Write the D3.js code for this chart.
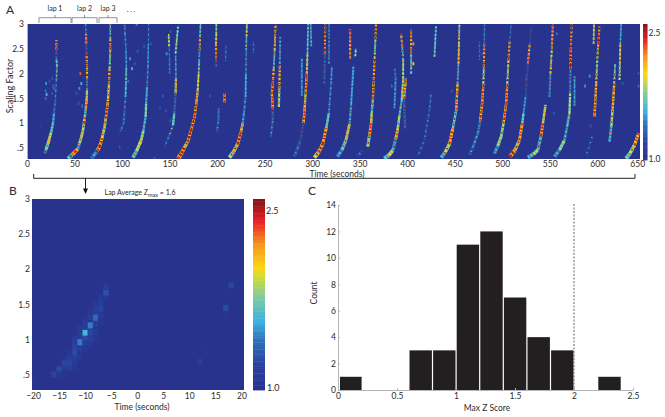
<!DOCTYPE html>
<html><head><meta charset="utf-8">
<script src="https://cdnjs.cloudflare.com/ajax/libs/d3/7.8.5/d3.min.js"></script>
<style>html,body{margin:0;padding:0;background:#fff}svg{display:block}text{font-family:Lato,"Open Sans",sans-serif;fill:#2b2b2b}</style>
</head><body><svg id="c" width="665" height="417"></svg>
<script>
// Panel A: streaks, each point [time s, scaling factor, z]
const streaksA = [
 [[18.8,.39,1.4],[20.5,.48,1.8],[22.4,.59,2.1],[24,.7,1.9],[25.9,.83,1.7],[27.7,1,1.6],[28.8,1.2,1.35],[30.2,1.47,1.3],[31.3,1.87,1.5],[32,2.14,1.8],[31.3,2.3,1.4],[31.3,2.48,2.5],[31.3,2.68,1.5]],
 [[43.7,.29,1.7],[48,.36,2.3],[51,.42,2.4],[54.3,.49,1.5],[56,.6,1.9],[58,.72,2.1],[59.7,.86,2.0],[60.6,1,2.5],[61.5,1.12,1.8],[62.5,1.27,2.3],[63.5,1.45,2.1],[64,1.67,1.5],[64,1.9,2.3],[64,2.14,2.5],[63.5,2.4,1.4],[63.2,2.6,2.4],[63,2.8,1.4],[62.5,3,1.4]],
 [[68.6,.29,1.4],[72,.37,1.5],[75,.45,2.4],[77.4,.53,2.5],[80,.7,2.0],[82.8,.93,2.2],[84,1.1,2.5],[85.6,1.33,2.4],[86.5,1.5,2.0],[87.4,1.8,2.5],[88,2.1,1.9],[88.8,2.48,2.5],[88.8,2.7,1.7],[88.8,3,2.5]],
 [[99.5,.83,1.3],[103,1,1.35],[104,1.25,1.3],[105,1.53,1.6],[105.5,1.8,1.7],[105.9,2.14,1.5],[105.5,2.5,1.4],[104.5,2.8,1.5],[104,3,2.5]],
 [[113,.31,1.7],[117,.45,2.0],[121.8,.66,1.9],[124,.85,1.6],[126.5,1.13,1.9],[127,1.4,1.6],[128,1.74,1.4],[129,2.14,1.5],[129.4,2.6,1.3],[129.7,3,1.4]],
 [[146.7,.53,1.2],[151,.72,1.3],[155.6,.96,1.8],[157,1.2,1.4],[158.4,1.6,2.3],[158.8,1.9,1.5],[158.4,2.41,1.9],[161,2.95,1.4]],
 [[152,2.0,1.4],[152,2.3,1.3],[151.5,2.55,2.0],[151,2.8,1.3]],
 [[161,.29,2.4],[165,.4,2.5],[168,.52,2.2],[171.6,.63,2.5],[175,.87,2.5],[178.7,1.13,2.5],[180.5,1.4,2.3],[182,1.67,2.0],[183,2,1.7],[183.5,2.25,1.6],[184,2.48,2.5],[184.5,2.75,1.7],[185,3,1.5]],
 [[202.5,.83,1.3],[204,1.05,1.4],[204.5,1.3,1.2]],
 [[201.8,2.14,1.4],[201.5,2.3,2.5],[201.5,2.6,2.0],[201.8,2.8,1.8],[201.8,3,1.6]],
 [[210.6,1.42,2.5],[210.6,1.6,2.4]],
 [[211.7,2.25,1.3],[212,2.55,1.4]],
 [[215.9,.31,1.9],[220,.42,2.2],[224.8,.59,2.5],[228,.82,2.3],[230,1,1.5],[231.5,1.25,1.4],[233,1.53,1.6],[233.4,2,1.4],[233.7,2.47,1.6],[234,2.75,1.9],[234.4,3,1.9]],
 [[241.5,2.4,1.3],[241.5,2.65,1.3]],
 [[260,.73,1.3],[262,1.06,1.4],[262,1.3,2.4],[261,1.6,2.5],[262,1.8,2.5],[263,2.1,1.7],[264,2.47,2.1],[264.5,2.75,2.5],[265,3,1.5]],
 [[268.5,1.33,2.0],[269,1.7,2.4],[269.5,2.2,1.6],[270,2.75,2.4]],
 [[285,.33,1.3],[290.5,.6,1.3],[294.8,1,2.4],[296,1.3,2.2],[297,1.6,2.5],[298.3,2,2.1],[299,2.4,1.7],[299.7,3,1.8]],
 [[293,1.55,1.5],[293,2.3,1.4]],
 [[303,2.55,1.6],[302.5,3,1.5]],
 [[306.5,.31,2.0],[311,.42,2.4],[315.4,.59,2.5],[319,.9,1.8],[321.8,1.2,1.4],[324.2,1.8,1.5],[325,2.14,1.5]],
 [[317,1.8,1.4],[317.5,2.4,2.5],[318,3,2.5]],
 [[321.8,2.2,1.5],[322,3,2.5]],
 [[331,.33,1.5],[336,.47,1.8],[340,.66,2.2],[344,1,1.5],[345.6,1.4,1.6],[348,2.14,1.3]],
 [[344.5,2.3,2.4],[344.5,2.9,1.4]],
 [[350,2.35,1.9],[350.5,2.5,1.6]],
 [[352,.33,1.2],[358,.46,1.3]],
 [[363.3,.53,1.9],[365,.75,2.4],[366.9,1,2.2],[367.5,1.2,1.8],[368.8,1.5,2.5],[369.4,1.8,2.5],[370.5,2.3,1.9],[371.5,2.7,2.5],[372,3,2.1]],
 [[381,.29,1.7],[386,.36,2.0],[390,.46,1.6],[393,.68,2.3],[395,.86,2.0],[397,1.15,1.6],[399.5,1.47,1.9],[401,1.9,2.0],[401,2.27,1.7],[400,2.55,2.4],[398.8,2.8,1.4]],
 [[391.7,1.3,1.5],[393,1.9,1.4],[392,2.1,1.3]],
 [[403,.9,1.4],[402,1.5,2.4],[404,1.9,1.3]],
 [[409.5,2,1.8],[409.5,2.4,2.5],[409.5,2.9,1.7]],
 [[416.6,.33,1.2],[423.7,.66,1.25],[429,1.26,1.3],[430.8,1.6,1.4]],
 [[434.4,2.34,1.8],[436,2.95,1.3]],
 [[441.6,.31,1.6],[446,.42,2.0],[450.5,.59,2.4],[454,.9,1.8],[457.6,1.27,2.4],[459,1.8,1.6],[460,2.2,2.1],[460.5,2.6,2.0],[461,3,2.5]],
 [[471.8,.36,1.3],[476,.55,1.4],[480.7,.8,1.5],[483,1.05,2.4],[485.3,1.4,2.5],[486.5,1.8,2.0],[487,2.14,2.5],[487.5,2.6,1.4],[487.8,3,1.3]],
 [[482.4,2.27,1.3],[482.4,2.65,1.25]],
 [[498.4,.39,1.5],[502,.55,1.9],[505.5,.73,1.9],[508,1,2.4],[510.8,1.4,2.5],[512,1.8,2.0],[513.3,2.27,2.5],[514.5,2.65,1.3],[516.2,3,1.3]],
 [[515,.33,2.5],[520,.45,2.2],[525,.66,2.4],[528,1,1.8],[529.3,1.2,1.5],[531.5,1.53,1.3],[534,2.2,2.4],[536,2.6,1.3],[537.5,2.95,2.5]],
 [[534,.31,1.6],[540,.38,1.9],[544.6,.46,1.7],[548,.75,2.5],[550,1,2.1],[552.8,1.37,1.9]],
 [[562.4,.33,1.5],[568,.47,1.9],[573,.66,1.5],[576,.95,1.7],[578.3,1.2,2.0],[579,1.6,1.5],[579.4,2.1,2.5],[579.6,2.48,2.5],[580.8,3,2.4]],
 [[557,1.53,1.5],[558,2,2.1],[559.5,2.5,2.4],[560.6,3,1.4]],
 [[583.7,1.35,1.5],[583.7,1.95,1.4]],
 [[596,.33,1.15],[603,.76,1.25]],
 [[605,1.13,2.4],[606,1.5,2.4],[606.8,1.8,1.9],[608,2.3,2.3],[609,2.6,2.5],[610.3,2.95,2.5]],
 [[604,2.6,2.2],[604.5,3,1.4]],
 [[621,.63,1.6],[623,.95,2.0],[624.5,1.33,2.4],[626,1.8,1.8],[627,2.2,2.4]],
 [[631.6,1.87,2.0],[632,2.2,2.2],[632.5,2.6,1.6],[633.4,3,1.4]],
 [[638.7,.29,1.8],[643,.4,2.0],[647.6,.56,2.4],[652,.8,1.8]]
];
const blotsA = [ [20,1.5,1.4],[20,1.65,1.4],[20.5,1.8,1.5],[27,1.9,1.3],[27,1.6,1.3],[15,.95,1.15],[99,.52,1.3],[108,.5,1.2],[136,.3,1.3],[145,1.55,1.3],[56,1.7,1.5],[57,2,2.3],[55,1.4,1.3],[110,2.3,1.5],[117,3,1.5],[118,2.45,1.3],[115,2.2,1.3],[132,2.6,1.3],[153,2.85,1.3],[195,1.55,1.3],[635,1.8,1.3],[652,2.0,1.3],[652,1.75,1.4],[595,1.75,1.5],[532,1.9,1.3],[453,1.65,1.3],[458,1.5,1.3],[21,1.58,1.6],[28,1.75,1.35],[24,1.85,1.25],[29,1.7,1.4],[53,1.6,1.3],[59,1.35,1.4],[58,1.8,1.6],[108,1.85,1.4],[112,2.1,1.6],[125,2.55,1.3],[142,1.3,1.25],[148,1.25,1.3],[149,2.4,1.5],[153,1.05,1.3],[389,1.75,1.4],[396,1.0,1.5],[412,2.2,2.0],[412,2.6,2.2],[485,2.4,1.3],[565,2.8,1.4],[562,1.2,1.3],[600,1.95,1.5],[601,.95,1.3] ];
// Reference time ruler is slightly wider than the one the streaks were read against
const timeCal = 0.987;
const xTicksA = [0,50,100,150,200,250,300,350,400,450,500,550,600,650];
const yTicks = [0.5,1,1.5,2,2.5,3];
const yTickLabels = [".5","1","1.5","2","2.5","3"];
const lapLabels = ["lap 1","lap 2","lap 3"];
const lapStart = [12.6,47.4,75.8];
const lapEnd = [46.3,73.7,94.7];
// Panel B cells: lap-average Z per time bin
const cellTime = [-20,-16,-15,-15,-14,-14,-14,-13,-13,-13,-13,-12,-12,-12,-12,-12,-12,-11,-11,-11,-11,-11,-10,-10,-10,-10,-10,-10,-9,-9,-9,-9,-9,-9,-8,-8,-8,-8,-8,-8,-7,-7,-7,-7,-7,-6,-6,-6,12,13,17,17,18];
const cellScale = [.4,.5,.57,.5,.6,.67,.53,.6,.67,.75,.82,.67,.75,.82,.9,1,.6,.75,.87,.96,1.05,1.15,.87,.96,1.03,1.1,1.18,1.25,.92,1,1.1,1.2,1.32,1.4,1.03,1.1,1.22,1.31,1.41,1.49,1.26,1.34,1.44,1.53,1.6,1.6,1.67,1.75,.68,.85,1.45,1.35,1.77];
const cellZ = [1.06,1.22,1.25,1.08,1.16,1.22,1.08,1.18,1.22,1.16,1.08,1.12,1.16,1.25,1.22,1.15,1.08,1.1,1.16,1.43,1.18,1.12,1.1,1.15,1.25,1.6,1.18,1.12,1.1,1.18,1.22,1.43,1.15,1.1,1.08,1.12,1.18,1.37,1.18,1.12,1.08,1.12,1.22,1.18,1.1,1.1,1.28,1.14,1.16,1.05,1.25,1.06,1.22];
const xTicksB = [-20,-15,-10,-5,0,5,10,15,20];
// Panel C histogram
const binStart = [0,0.6,0.8,1,1.2,1.4,1.6,1.8,2.2];
const binCount = [1,3,3,11,12,7,4,3,1];
const xTicksC = [0,0.5,1,1.5,2,2.5];
const yTicksC = [0,2,4,6,8,10,12,14];
// Colour map
const cStops = [[0,"#27338d"],[.12,"#2a3f9c"],[.25,"#2f6fb8"],[.36,"#3cb6e0"],[.48,"#82c9a0"],[.58,"#c9dc3c"],[.63,"#fdd80f"],[.76,"#f6921e"],[.88,"#e91d25"],[1,"#7c1416"]];
const colorT = d3.scaleLinear().domain(cStops.map(d=>d[0])).range(cStops.map(d=>d[1])).interpolate(d3.interpolateRgb);
const zFrac = d3.scaleLinear().domain([1,2.6]).range([0,1]).clamp(true);
const zColor = z => colorT(zFrac(z));
const bg = zColor(1);

const svg = d3.select("#c");
const defs = svg.append("defs");
defs.append("filter").attr("id","soft").append("feGaussianBlur").attr("stdDeviation",.4);
defs.append("filter").attr("id","softB").attr("x","-20%").attr("y","-20%").attr("width","140%").attr("height","140%").append("feGaussianBlur").attr("stdDeviation",.45);
const labelColor = "#2b2b2b";
function letter(s,x,y){svg.append("text").attr("x",x).attr("y",y).attr("font-size",12).text(s);}
function styleAxis(g,stroke){g.selectAll("path.domain").attr("stroke",stroke);g.selectAll("line").attr("stroke",stroke);g.selectAll("text").attr("font-size",8.5).attr("fill",labelColor);}

// Panel A
const xA = d3.scaleLinear().domain([0,645]).range([27,640]);
const yA = d3.scaleLinear().domain([0.28,3]).range([159,24]);
svg.append("clipPath").attr("id","ca").append("rect").attr("x",27.6).attr("y",24).attr("width",612.4).attr("height",135);
svg.append("rect").attr("x",27.6).attr("y",24).attr("width",612.4).attr("height",135).attr("fill",bg);
const gA = svg.append("g").attr("clip-path","url(#ca)").append("g").attr("filter","url(#soft)");
const segs = [];
streaksA.forEach(st=>d3.pairs(st).forEach(([a,b])=>segs.push([a,b])));
const segLine = d3.line().x(d=>xA(d[0]*timeCal)).y(d=>yA(d[1]));
const bandWidth = d => 1.1+1.1/((d[0][1]+d[1][1])/2+.1);
gA.selectAll("path.base").data(segs).join("path").attr("class","base").attr("d",segLine).attr("fill","none")
  .attr("stroke",d=>zColor(1+(d[0][2]-1)*.7)).attr("stroke-width",d=>bandWidth(d)+.5).attr("stroke-dasharray",d=>(d[0][1]>1.6?"2.5 1.6":"5 0.7"));
gA.selectAll("path.hot").data(segs).join("path").attr("class","hot").attr("d",segLine).attr("fill","none")
  .attr("stroke",d=>zColor(d[0][2])).attr("stroke-width",d=>bandWidth(d)-.2).attr("stroke-dasharray","2.2 1.3");
gA.selectAll("path.peak").data(segs).join("path").attr("class","peak").attr("d",segLine).attr("fill","none")
  .attr("stroke",d=>zColor(d[1][2]+.25)).attr("stroke-width",d=>bandWidth(d)*.6).attr("stroke-dasharray","1.2 4.1").attr("stroke-dashoffset",2);
gA.selectAll("rect.blot").data(blotsA).join("rect").attr("class","blot")
  .attr("x",d=>xA(d[0]*timeCal)-1).attr("y",d=>yA(d[1])-1.5).attr("width",1.8).attr("height",3).attr("fill",d=>zColor(d[2]));
const axA = svg.append("g").attr("transform","translate(0,159)").call(d3.axisBottom(xA).tickValues(xTicksA).tickSize(0).tickPadding(1.5));
axA.select(".domain").remove(); styleAxis(axA,"#999");
axA.selectAll("g.tick").filter(d=>d===650).select("text").attr("dx",-7.5);
const ayA = svg.append("g").attr("transform","translate(27,0)").call(d3.axisLeft(yA).tickValues(yTicks).tickSize(0).tickPadding(3).tickFormat((d,i)=>yTickLabels[i]));
ayA.select(".domain").remove(); styleAxis(ayA,"#999");
svg.append("text").attr("transform","translate(13,86) rotate(-90)").attr("text-anchor","middle").attr("font-size",9).text("Scaling Factor");
svg.append("text").attr("x",337).attr("y",177).attr("text-anchor","middle").attr("font-size",8.5).text("Time (seconds)");
letter("A",6,14);
// Colour bars
function colorBar(x,w,y0,y1,labels,fs){
  const s=d3.scaleLinear().domain([1,2.6]).range([y1,y0]);
  const zs=d3.range(1,2.6,0.02);
  svg.append("g").selectAll("rect").data(zs).join("rect").attr("x",x).attr("width",w)
    .attr("y",d=>s(d+0.02)).attr("height",d=>s(d)-s(d+0.02)+.4).attr("fill",d=>zColor(d));
  labels.forEach(l=>svg.append("text").attr("x",x+w+1).attr("y",s(l)+3).attr("font-size",fs).text(l.toFixed(1)));
  return s;
}
colorBar(643,4.5,24,160,[2.5],8.5);
svg.append("text").attr("x",648.5).attr("y",162).attr("font-size",8.5).text("1.0");
// Lap brackets
const lapG = svg.append("g").attr("fill","none").attr("stroke","#666").attr("stroke-width",.7);
lapLabels.forEach((l,i)=>{
  const a=xA(lapStart[i]), b=xA(lapEnd[i]), m=(a+b)/2;
  lapG.append("path").attr("d",`M${a},23V17.7H${b}V23M${m},17.7V15`);
  svg.append("text").attr("x",m).attr("y",11).attr("text-anchor","middle").attr("font-size",7).text(l);
});
svg.append("text").attr("x",131).attr("y",12).attr("text-anchor","middle").attr("font-size",7).text(". . .");
// Whole-session bracket and arrow
svg.append("path").attr("d","M33.7,174V178.3H635V174").attr("fill","none").attr("stroke","#222").attr("stroke-width",1);
svg.append("path").attr("d","M85.5,178V190").attr("stroke","#222").attr("stroke-width",1);
svg.append("path").attr("d","M83,188.5L85.5,194L88,188.5Z").attr("fill","#111");

// Panel B
const xB = d3.scaleLinear().domain([-20.2,20.5]).range([32,244]);
const yB = d3.scaleLinear().domain([0.28,3]).range([390,199]);
svg.append("clipPath").attr("id","cb").append("rect").attr("x",32).attr("y",199).attr("width",212).attr("height",191);
svg.append("rect").attr("x",32).attr("y",199).attr("width",212).attr("height",191).attr("fill",bg);
const cellData = cellTime.map((t,i)=>({t,s:cellScale[i],z:cellZ[i]}));
svg.append("g").attr("clip-path","url(#cb)").append("g").attr("filter","url(#softB)").selectAll("rect").data(cellData).join("rect")
  .attr("x",d=>xB(d.t-.5)).attr("width",d=>xB(d.t+.5)-xB(d.t-.5))
  .attr("y",d=>yB(d.s+.045)).attr("height",d=>yB(d.s-.045)-yB(d.s+.045)).attr("fill",d=>zColor(d.z));
const axB = svg.append("g").attr("transform","translate(0,390)").call(d3.axisBottom(xB).tickValues(xTicksB).tickSize(0).tickPadding(2.5).tickFormat(d=>d<0?"\u2212"+(-d):d));
axB.select(".domain").remove(); styleAxis(axB,"#999");
const ayB = svg.append("g").attr("transform","translate(32,0)").call(d3.axisLeft(yB).tickValues(yTicks).tickSize(0).tickPadding(2).tickFormat((d,i)=>yTickLabels[i]));
ayB.select(".domain").remove(); styleAxis(ayB,"#999");
svg.append("text").attr("x",142).attr("y",410).attr("text-anchor","middle").attr("font-size",8.5).text("Time (seconds)");
letter("B",9,195);
const title = svg.append("text").attr("x",140).attr("y",195).attr("text-anchor","middle").attr("font-size",7);
title.append("tspan").text("Lap Average Z");
title.append("tspan").attr("dy",1.5).attr("font-size",5.5).text("max");
title.append("tspan").attr("dy",-1.5).text(" = 1.6");
colorBar(253,12,199,390,[2.5],9);
svg.append("text").attr("x",267).attr("y",391).attr("font-size",9).text("1.0");

// Panel C
const xC = d3.scaleLinear().domain([0,2.5]).range([338,633]);
const yC = d3.scaleLinear().domain([0,14]).range([390,205]);
const bins = binStart.map((b,i)=>({b,c:binCount[i]}));
svg.append("g").selectAll("rect").data(bins).join("rect")
  .attr("x",d=>xC(d.b)+(d.b===0?2:.7)).attr("width",d=>xC(d.b+.2)-xC(d.b)-(d.b===0?2:1.2))
  .attr("y",d=>yC(d.c)).attr("height",d=>yC(0)-yC(d.c)).attr("fill","#231f20");
svg.append("path").attr("d",`M${xC(2)},204V390`).attr("stroke","#666").attr("stroke-width",1).attr("stroke-dasharray","2 1.5");
const axC = svg.append("g").attr("transform","translate(0,390)").call(d3.axisBottom(xC).tickValues(xTicksC).tickSize(-2).tickSizeOuter(0).tickPadding(3).tickFormat(d=>d));
styleAxis(axC,"#b5b5b5");
const ayC = svg.append("g").attr("transform","translate(338,0)").call(d3.axisLeft(yC).tickValues(yTicksC).tickSize(-2).tickSizeOuter(0).tickPadding(2));
styleAxis(ayC,"#b5b5b5");
svg.append("text").attr("transform","translate(317,293) rotate(-90)").attr("text-anchor","middle").attr("font-size",8.5).text("Count");
svg.append("text").attr("x",487).attr("y",411).attr("text-anchor","middle").attr("font-size",8.5).text("Max Z Score");
letter("C",308,195);
</script></body></html>
